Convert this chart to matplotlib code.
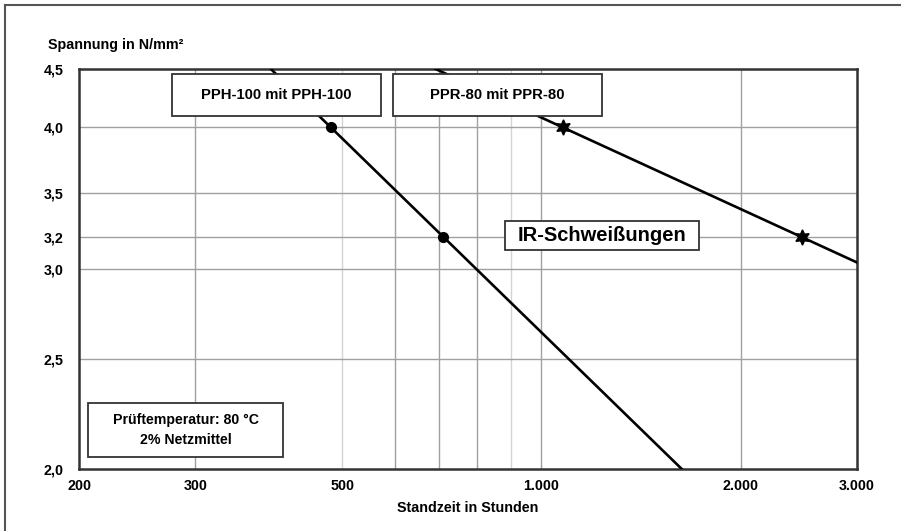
import matplotlib
matplotlib.use('Agg')
import matplotlib.pyplot as plt
from matplotlib.patches import Rectangle
from matplotlib.lines import Line2D

plt.rcParams['font.family'] = ['Liberation Sans', 'DejaVu Sans']
plt.rcParams['font.weight'] = 'bold'

# x ticks (hours) and y ticks (N/mm²)
x_ticks = [200, 300, 500, 1000, 2000, 3000]
x_labels = ['200', '300', '500', '1.000', '2.000', '3.000']
y_ticks = [2.0, 2.5, 3.0, 3.2, 3.5, 4.0, 4.5]
y_labels = ['2,0', '2,5', '3,0', '3,2', '3,5', '4,0', '4,5']
x_grid = [300, 500, 600, 700, 800, 900, 1000, 2000]
x_grid_light = [500, 900]
y_grid = [2.5, 3.0, 3.2, 3.5, 4.0]

# PPH-100 mit PPH-100: measured points and line ends
pph_x = [480, 710]
pph_y = [4.0, 3.2]
pph_line_x = [390, 1630]
pph_line_y = [4.5, 2.0]

# PPR-80 mit PPR-80
ppr_x = [1080, 2480]
ppr_y = [4.0, 3.2]
ppr_line_x = [692, 3000]
ppr_line_y = [4.5, 3.04]

fig = plt.figure(figsize=(9.01, 5.31), dpi=100)
ax = fig.add_axes([79/901, 1-469/531, 778/901, 400/531])
ax.set_xscale('log')
ax.set_yscale('log')
ax.set_xlim(200, 3000)
ax.set_ylim(2.0, 4.5)

for xv in x_grid:
    c = '#d4d4d4' if xv in x_grid_light else '#a0a0a0'
    ax.axvline(xv, color=c, lw=1, zorder=1)
for yv in y_grid:
    ax.axhline(yv, color='#a0a0a0', lw=1, zorder=1)

ax.plot(pph_line_x, pph_line_y, color='black', lw=1.9, zorder=3)
ax.plot(pph_x, pph_y, 'o', color='black', ms=7, zorder=4)
ax.plot(ppr_line_x, ppr_line_y, color='black', lw=1.9, zorder=3)
ax.plot(ppr_x, ppr_y, marker=(6, 1, 0), ls='none', color='black', ms=11, zorder=4)

ax.minorticks_off()
ax.set_xticks(x_ticks)
ax.set_xticklabels(x_labels)
ax.set_yticks(y_ticks)
ax.set_yticklabels(y_labels)
ax.tick_params(length=0, labelsize=10.3)
ax.tick_params(axis='x', pad=7)
ax.tick_params(axis='y', pad=11)
for s in ax.spines.values():
    s.set_color('#333333')
    s.set_linewidth(1.8)

ax.set_xlabel('Standzeit in Stunden', fontsize=10.3, fontweight='bold', labelpad=6)
fig.text(48/901, 1-45/531, 'Spannung in N/mm²', fontsize=10.3, fontweight='bold', va='center')


def box(x0, x1, y0, y1, text, size):
    ax.add_patch(Rectangle((x0, y0), x1-x0, y1-y0, transform=ax.transAxes,
                           facecolor='white', edgecolor='#333333', lw=1.3, zorder=5, clip_on=False))
    ax.text((x0+x1)/2, (y0+y1)/2, text, transform=ax.transAxes, ha='center', va='center',
            fontsize=size, fontweight='bold', zorder=6, linespacing=1.5)


box(0.1195, 0.388, 0.8825, 0.9875, 'PPH-100 mit PPH-100', 10.7)
box(0.4036, 0.6722, 0.8825, 0.9875, 'PPR-80 mit PPR-80', 10.7)
box(0.5476, 0.7969, 0.5475, 0.62, 'IR-Schweißungen', 14.5)
box(0.0116, 0.2622, 0.03, 0.165, 'Prüftemperatur: 80 °C\n2% Netzmittel', 10.2)

# outer frame (left and top only)
fig.add_artist(Line2D([5/901, 5/901], [0, 1-5/531], color='#555555', lw=1.5))
fig.add_artist(Line2D([5/901, 1], [1-5/531, 1-5/531], color='#555555', lw=1.5))

fig.savefig('out.png', dpi=100)
